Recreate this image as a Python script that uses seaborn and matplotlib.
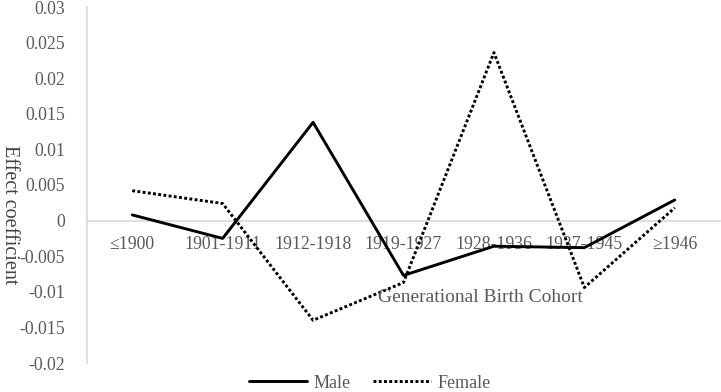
import matplotlib
matplotlib.use("Agg")
import matplotlib.pyplot as plt
import seaborn as sns
import pandas as pd

cohorts = ["≤1900", "1901-1911", "1912-1918", "1919-1927", "1928-1936", "1937-1945", "≥1946"]
male = [0.0008, -0.0025, 0.0138, -0.0077, -0.0036, -0.0038, 0.0029]
female = [0.0042, 0.0024, -0.0140, -0.0087, 0.0236, -0.0094, 0.0018]
yticks = [-0.02, -0.015, -0.01, -0.005, 0, 0.005, 0.01, 0.015, 0.02, 0.025, 0.03]
ytick_labels = ["-0.02", "-0.015", "-0.01", "-0.005", "0", "0.005", "0.01", "0.015", "0.02", "0.025", "0.03"]

df = pd.DataFrame({
    "Cohort": cohorts * 2,
    "Effect": male + female,
    "Sex": ["Male"] * len(cohorts) + ["Female"] * len(cohorts),
})

sns.set_style("white")
plt.rcParams["font.family"] = ["Liberation Serif", "DejaVu Serif"]
gray = "#595959"
grid = "#d9d9d9"

fig = plt.figure(figsize=(7.21, 3.92), dpi=100)
ax = fig.add_axes([87 / 721, 1 - 363 / 392, (720 - 87) / 721, (363 - 7) / 392])

sns.lineplot(data=df, x="Cohort", y="Effect", hue="Sex", style="Sex",
             palette={"Male": "black", "Female": "black"},
             dashes={"Male": "", "Female": (1, 0.8)},
             linewidth=2.1, sort=False, ax=ax, legend=True)

ax.set_xlim(-0.5, len(cohorts) - 0.5)
ax.set_ylim(-0.02, 0.03)
ax.set_yticks(yticks)
ax.set_yticklabels(ytick_labels)
ax.tick_params(axis="y", length=0, pad=16, labelsize=12.8, labelcolor=gray)
ax.tick_params(axis="x", length=0, pad=11, labelsize=12.8, labelcolor=gray)

for s in ["top", "right"]:
    ax.spines[s].set_visible(False)
ax.spines["left"].set_color(grid)
ax.spines["left"].set_linewidth(1.2)
ax.spines["bottom"].set_position(("data", 0))
ax.spines["bottom"].set_color(grid)
ax.spines["bottom"].set_linewidth(1.2)
ax.spines["bottom"].set_zorder(0)

ax.set_xlabel("")
ax.set_ylabel("")
fig.text(9 / 721, 1 - 215 / 392, "Effect coefficient", rotation=-90,
         ha="center", va="center", fontsize=14.5, color="#404040")
ax.text((480 - 87) / 633, (363 - 297) / 356, "Generational Birth Cohort",
        transform=ax.transAxes, ha="center", va="center", fontsize=14, color=gray)

handles, labels = ax.get_legend_handles_labels()
ax.legend_.remove()
leg = fig.legend(handles, labels, loc="center", bbox_to_anchor=(370 / 721, 1 - 383 / 392),
                 ncol=2, frameon=False, fontsize=13, handlelength=3.2,
                 columnspacing=1.2, handletextpad=0.4, labelcolor=gray)

fig.savefig("out.png", dpi=100)
